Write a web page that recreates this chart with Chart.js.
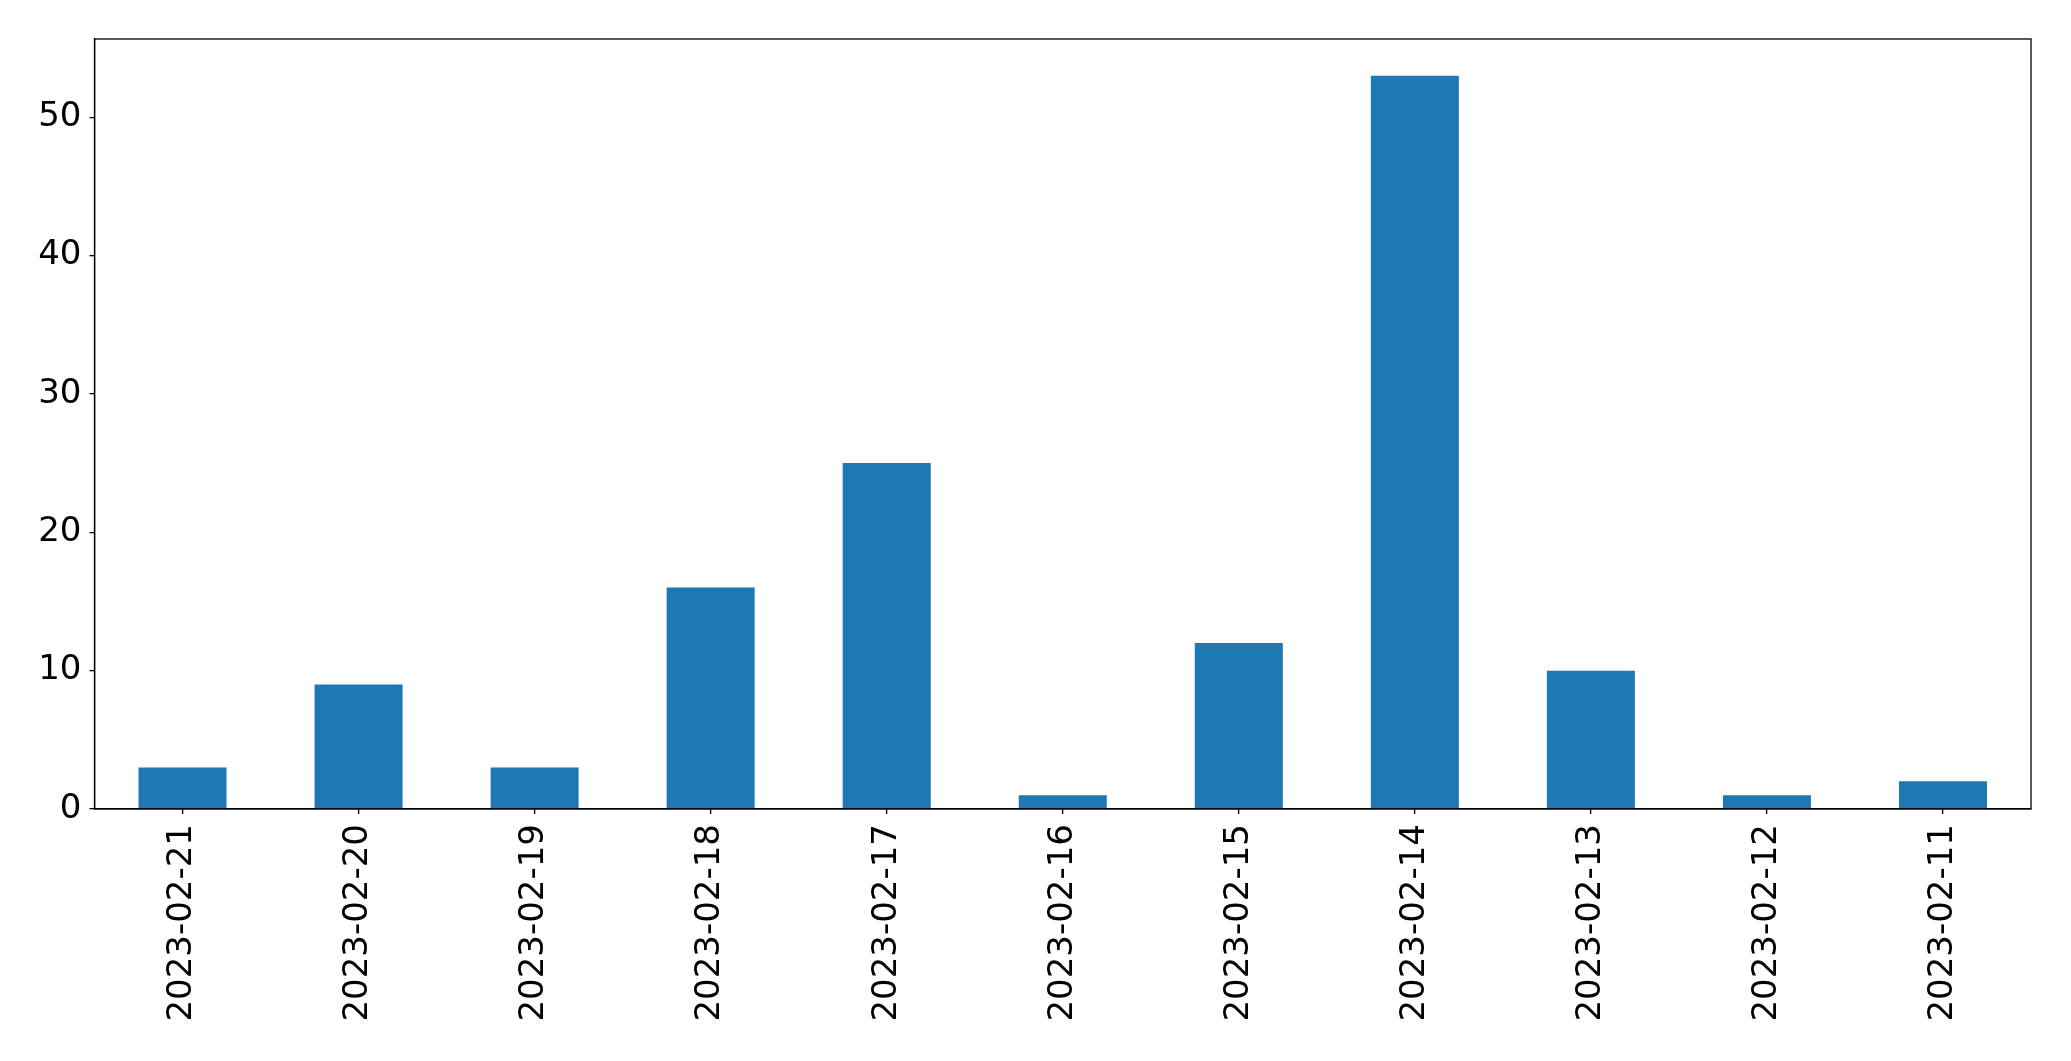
<!DOCTYPE html>
<html>
<head>
<meta charset="utf-8">
<script src="https://cdn.jsdelivr.net/npm/chart.js@4.4.0/dist/chart.umd.min.js"></script>
<style>
  html, body { margin: 0; padding: 0; background: #fff; }
  #wrap { width: 2071px; height: 1061px; }
</style>
</head>
<body>
<div id="wrap"><canvas id="barChart" width="2071" height="1061"></canvas></div>
<script>
const fechas = ["2023-02-21", "2023-02-20", "2023-02-19", "2023-02-18", "2023-02-17", "2023-02-16",
  "2023-02-15", "2023-02-14", "2023-02-13", "2023-02-12", "2023-02-11"];
const cantidades = [3, 9, 3, 16, 25, 1, 12, 53, 10, 1, 2];
const yTicks = [0, 10, 20, 30, 40, 50];

// marco negro alrededor del area del grafico
const marco = {
  id: "marco",
  afterDraw(chart) {
    const { ctx, chartArea } = chart;
    ctx.save();
    ctx.strokeStyle = "#000";
    ctx.lineWidth = 1.3;
    ctx.strokeRect(chartArea.left, chartArea.top,
      chartArea.right - chartArea.left, chartArea.bottom - chartArea.top);
    ctx.restore();
  },
};

new Chart(document.getElementById("barChart"), {
  type: "bar",
  data: {
    labels: fechas,
    datasets: [
      {
        data: cantidades,
        backgroundColor: "#1f77b4",
        barPercentage: 0.5,
        categoryPercentage: 1.0,
      },
    ],
  },
  options: {
    responsive: false,
    animation: false,
    layout: { padding: { top: 39, right: 40, left: 0, bottom: 0 } },
    plugins: { legend: { display: false }, tooltip: { enabled: false } },
    scales: {
      x: {
        grid: { drawOnChartArea: false, offset: false, tickLength: 5, color: "#000", lineWidth: 1.3 },
        border: { display: true, color: "#000", width: 1.3 },
        ticks: {
          color: "#000",
          font: { family: "DejaVu Sans", size: 34 },
          maxRotation: 90,
          minRotation: 90,
          padding: 10,
          autoSkip: false,
        },
        afterFit(scale) {
          scale.height = 252;
        },
      },
      y: {
        min: 0,
        max: 55.65,
        grid: { drawOnChartArea: false, tickLength: 5, color: "#000", lineWidth: 1.3 },
        border: { display: true, color: "#000", width: 1.3 },
        ticks: {
          color: "#000",
          font: { family: "DejaVu Sans", size: 34 },
          padding: 8,
          includeBounds: false,
        },
        afterBuildTicks(scale) {
          scale.ticks = yTicks.map((v) => ({ value: v }));
        },
        afterFit(scale) {
          scale.width = 94.5;
        },
      },
    },
  },
  plugins: [marco],
});
</script>
</body>
</html>
